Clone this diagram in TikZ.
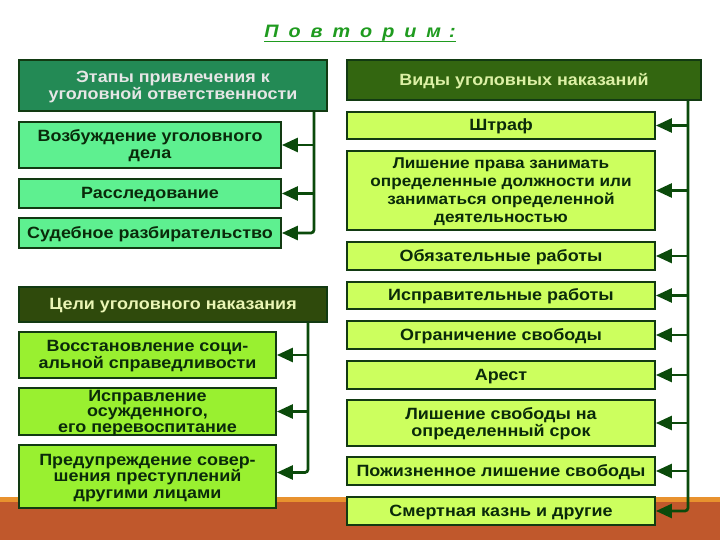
\documentclass[tikz,border=0pt]{standalone}
\usepackage{fontspec}
\setmainfont{Liberation Sans}
\newfontfamily\bx{Liberation Sans}[FakeStretch=1.1]
\usetikzlibrary{arrows.meta,calc}
\definecolor{titlegreen}{HTML}{1F9B1F}
\definecolor{hdteal}{HTML}{238A55}
\definecolor{hdolive}{HTML}{2F4A0C}
\definecolor{hdgreen}{HTML}{336610}
\definecolor{mint}{HTML}{5EF090}
\definecolor{lime}{HTML}{99F030}
\definecolor{pale}{HTML}{CCFF5E}
\definecolor{boxline}{HTML}{123A12}
\definecolor{txtdark}{HTML}{0A2A0A}
\definecolor{arrgreen}{HTML}{0B4A0B}
\definecolor{bandorange}{HTML}{E8922E}
\definecolor{bandbrown}{HTML}{C0582C}
\definecolor{txtgray}{HTML}{E6E6E6}
\definecolor{txtlimeA}{HTML}{EAF5B5}
\definecolor{txtlimeB}{HTML}{DCF0A5}
\begin{document}
\begin{tikzpicture}[x=1pt,y=-1pt,
  box/.style={draw=boxline, line width=1.8pt, align=center, inner sep=0pt, text depth=1pt,
    font=\bx\bfseries\fontsize{16.3}{17}\selectfont, text=txtdark},
  hbox/.style={box},
  conn/.style={draw=arrgreen, line width=2.7pt, -{Triangle[length=16pt,width=14pt]}},
  trunk/.style={draw=arrgreen, line width=2.7pt, rounded corners=3pt, -{Triangle[length=16pt,width=14pt]}}
]
\useasboundingbox (0,0) rectangle (720,540);
\fill[white] (0,0) rectangle (720,540);
\fill[bandorange] (0,497) rectangle (720,502);
\fill[bandbrown] (0,502) rectangle (720,540);

% title
\node[inner sep=0pt, text=titlegreen, font=\bx\bfseries\itshape\fontsize{18}{20}\selectfont] (title) at (360,33)
  {П\hspace{10pt}о\hspace{10pt}в\hspace{10pt}т\hspace{10pt}о\hspace{10pt}р\hspace{10pt}и\hspace{10pt}м\hspace{8pt}:};
\draw[titlegreen, line width=1.5pt] ($(title.base west)+(0,4)$) -- ($(title.base east)+(0,4)$);

% left upper
\node[hbox, fill=hdteal, text=txtgray, minimum width=308pt, minimum height=51pt] (h1) at (173,85.5)
  {Этапы привлечения к\\уголовной ответственности};
\node[box, fill=mint, minimum width=262pt, minimum height=46pt] (a1) at (150,145)
  {Возбуждение уголовного\\дела};
\node[box, fill=mint, minimum width=262pt, minimum height=29pt] (a2) at (150,193.5)
  {Расследование};
\node[box, fill=mint, minimum width=262pt, minimum height=30pt] (a3) at (150,233)
  {Судебное разбирательство};
\coordinate (v1) at (314,0);
\draw[trunk] (h1.south -| v1) |- (a3.east);
\draw[conn] (v1 |- a1.east) -- (a1.east);
\draw[conn] (v1 |- a2.east) -- (a2.east);

% left lower
\node[hbox, fill=hdolive, text=txtlimeA, minimum width=308pt, minimum height=35pt] (h2) at (173,304.5)
  {Цели уголовного наказания};
\node[box, fill=lime, minimum width=257pt, minimum height=46pt] (g1) at (147.5,355)
  {Восстановление соци-\\альной справедливости};
\node[box, fill=lime, minimum width=257pt, minimum height=47pt, font=\bx\bfseries\fontsize{16.3}{15.5}\selectfont] (g2) at (147.5,411.5)
  {Исправление\\осужденного,\\его перевоспитание};
\node[box, fill=lime, minimum width=257pt, minimum height=63pt, font=\bx\bfseries\fontsize{16.3}{16.5}\selectfont] (g3) at (147.5,476.5)
  {Предупреждение совер-\\шения преступлений\\другими лицами};
\coordinate (v2) at (308,0);
\coordinate (g3a) at ($(g3.east)+(0,-4)$);
\draw[trunk] (h2.south -| v2) |- (g3a);
\draw[conn] (v2 |- g1.east) -- (g1.east);
\draw[conn] (v2 |- g2.east) -- (g2.east);

% right
\node[hbox, fill=hdgreen, text=txtlimeB, minimum width=354pt, minimum height=40pt] (h3) at (524,80)
  {Виды уголовных наказаний};
\node[box, fill=pale, minimum width=308pt, minimum height=27pt] (r1) at (501,125.5) {Штраф};
\node[box, fill=pale, minimum width=308pt, minimum height=79pt, font=\bx\bfseries\fontsize{15.6}{18.2}\selectfont] (r2) at (501,190.5)
  {Лишение права занимать\\определенные должности или\\заниматься определенной\\деятельностью};
\node[box, fill=pale, minimum width=308pt, minimum height=28pt] (r3) at (501,256) {Обязательные работы};
\node[box, fill=pale, minimum width=308pt, minimum height=27pt] (r4) at (501,295.5) {Исправительные работы};
\node[box, fill=pale, minimum width=308pt, minimum height=28pt] (r5) at (501,335) {Ограничение свободы};
\node[box, fill=pale, minimum width=308pt, minimum height=28pt] (r6) at (501,375) {Арест};
\node[box, fill=pale, minimum width=308pt, minimum height=46pt] (r7) at (501,423)
  {Лишение свободы на\\определенный срок};
\node[box, fill=pale, minimum width=308pt, minimum height=28pt] (r8) at (501,471) {Пожизненное лишение свободы};
\node[box, fill=pale, minimum width=308pt, minimum height=28pt] (r9) at (501,511) {Смертная казнь и другие};
\coordinate (v3) at (688,0);
\draw[trunk] (h3.south -| v3) |- (r9.east);
\foreach \n in {r1,r2,r3,r4,r5,r6,r7,r8}
  \draw[conn] (v3 |- \n.east) -- (\n.east);
\end{tikzpicture}
\end{document}
